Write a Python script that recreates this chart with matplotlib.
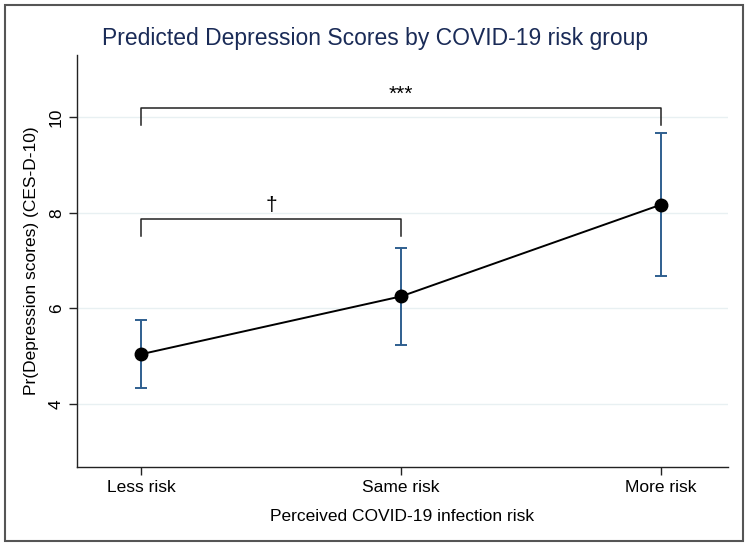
import matplotlib
matplotlib.use('Agg')
from matplotlib import pyplot as plt
from matplotlib.patches import Rectangle

plt.rcParams['font.family'] = ['Liberation Sans', 'DejaVu Sans']

# data
groups = ['Less risk', 'Same risk', 'More risk']
margins = [5.04, 6.25, 8.17]
ci_low = [4.33, 5.23, 6.68]
ci_high = [5.75, 7.27, 9.66]
y_ticks = [4, 6, 8, 10]

# significance brackets: (from group, to group, bracket top, bracket foot, label)
brackets = [(1, 3, 10.2, 9.83, '***'), (1, 2, 7.87, 7.51, '\u2020')]

navy = '#1a2b57'
bar_blue = '#2f5f8f'
grid_col = '#e8f0f2'

x = [1, 2, 3]

fig = plt.figure(figsize=(7.5, 5.47), dpi=100)
ax = fig.add_axes([0.1027, 0.1463, 0.868, 0.7532])

for yv in y_ticks:
    ax.axhline(yv, color=grid_col, lw=1.0, zorder=0)

# confidence intervals
err_lo = [m - lo for m, lo in zip(margins, ci_low)]
err_hi = [hi - m for m, hi in zip(margins, ci_high)]
ax.errorbar(x, margins, yerr=[err_lo, err_hi], fmt='none', ecolor=bar_blue,
            elinewidth=1.4, capsize=4, capthick=1.4, zorder=2)

ax.plot(x, margins, color='black', lw=1.4, zorder=3)
ax.plot(x, margins, 'o', color='black', ms=9, zorder=4)

for x0, x1, top, foot, label in brackets:
    ax.plot([x0, x0, x1, x1], [foot, top, top, foot], color='#222222', lw=1.1, zorder=3)
    ax.text((x0 + x1) / 2, top + 0.08, label, ha='center', va='bottom',
            fontsize=15, color='black')

ax.set_xlim(0.753, 3.257)
ax.set_ylim(2.68, 11.3)
ax.set_xticks(x)
ax.set_xticklabels(groups, fontsize=12.5)
ax.set_yticks(y_ticks)
ax.set_yticklabels([str(v) for v in y_ticks], fontsize=12.5, rotation=90, va='center')

ax.set_xlabel('Perceived COVID-19 infection risk', fontsize=12.5, labelpad=10)
ax.set_ylabel('Pr(Depression scores) (CES-D-10)', fontsize=12.5, labelpad=7)
fig.suptitle('Predicted Depression Scores by COVID-19 risk group', fontsize=16.5,
             color=navy, x=0.5, y=0.93, va='center')

ax.spines['top'].set_visible(False)
ax.spines['right'].set_visible(False)
for side in ['left', 'bottom']:
    ax.spines[side].set_color('#222222')
    ax.spines[side].set_linewidth(1.0)
ax.tick_params(length=6, width=1.0, color='#222222')

# outer frame like the exported graph window
fig.patches.append(Rectangle((0.006, 0.011), 0.985, 0.98, transform=fig.transFigure,
                             fill=False, edgecolor='#555555', lw=1.5))

fig.savefig('out.png', dpi=100)
